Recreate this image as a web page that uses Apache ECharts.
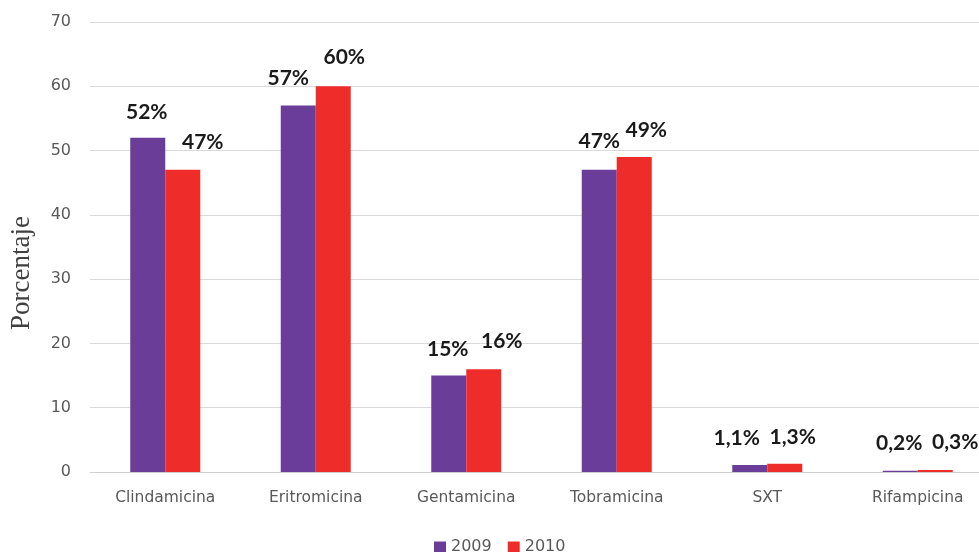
<!DOCTYPE html>
<html>
<head>
<meta charset="utf-8">
<script src="https://cdn.jsdelivr.net/npm/echarts@6/dist/echarts.min.js"></script>
<style>
  html, body { margin: 0; padding: 0; background: #fff; }
  #chart { width: 979px; height: 552px; }
</style>
</head>
<body>
<div id="chart"></div>
<script>
// datos
const categories = ['Clindamicina', 'Eritromicina', 'Gentamicina', 'Tobramicina', 'SXT', 'Rifampicina'];
const serie2009 = [52, 57, 15, 47, 1.1, 0.2];
const serie2010 = [47, 60, 16, 49, 1.3, 0.3];
const yTicks = { min: 0, max: 70, interval: 10 };

// desplazamiento de las etiquetas (como en el original)
const shift2009 = [[-1, -10], [-10, -12], [-1, -11], [0, -13], [-13, -11], [-1, -12]];
const shift2010 = [[20, -12], [11, -14], [18, -12], [12, -11], [8, -11], [20, -12]];

const myChart = echarts.init(document.getElementById('chart'));

const fmt = p => String(p.value).replace('.', ',') + '%';

function buildData(values, shifts) {
  return values.map((v, i) => ({ value: v, label: { offset: shifts[i] } }));
}

const labelStyle = {
  show: true,
  position: 'top',
  distance: 5,
  formatter: fmt,
  fontFamily: 'Lato',
  fontWeight: 'bold',
  fontSize: 21,
  color: '#1a1a1a'
};

myChart.setOption({
  animation: false,
  backgroundColor: '#fff',
  grid: { left: 90, top: 22, width: 903, height: 450, containLabel: false, outerBoundsMode: 'none' },
  legend: {
    top: 534,
    left: 429,
    itemWidth: 12,
    itemHeight: 11,
    itemGap: 16,
    icon: 'rect',
    textStyle: { fontFamily: 'DejaVu Sans', fontSize: 16, color: '#595959' },
    data: ['2009', '2010']
  },
  xAxis: {
    type: 'category',
    data: categories,
    axisLine: { lineStyle: { color: '#d0d0d0', width: 1 } },
    axisTick: { show: false },
    axisLabel: { margin: 18, fontFamily: 'DejaVu Sans', fontSize: 15.5, color: '#595959' }
  },
  yAxis: {
    type: 'value',
    min: yTicks.min,
    max: yTicks.max,
    interval: yTicks.interval,
    name: 'Porcentaje',
    nameLocation: 'middle',
    nameGap: 55,
    nameTextStyle: { fontFamily: 'Liberation Serif', fontSize: 27, color: '#404040', padding: [0, 52, 0, 0] },
    axisLine: { show: false },
    axisTick: { show: false },
    axisLabel: { margin: 19, fontFamily: 'DejaVu Sans', fontSize: 16, color: '#595959' },
    splitLine: { lineStyle: { color: '#d9d9d9', width: 1 } }
  },
  series: [
    {
      name: '2009',
      type: 'bar',
      barWidth: 35,
      barGap: '0%',
      itemStyle: { color: '#6a3d98' },
      label: labelStyle,
      data: buildData(serie2009, shift2009)
    },
    {
      name: '2010',
      type: 'bar',
      barWidth: 35,
      barGap: '0%',
      itemStyle: { color: '#ee2d2b' },
      label: labelStyle,
      data: buildData(serie2010, shift2010)
    }
  ]
});
</script>
</body>
</html>
